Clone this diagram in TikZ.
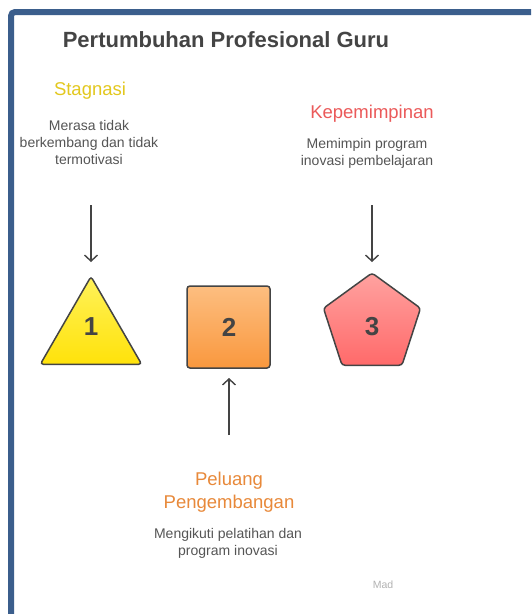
\documentclass[tikz,border=0pt]{standalone}
\usepackage{fontspec}
\setmainfont{Liberation Sans}
\usetikzlibrary{shapes.geometric,arrows.meta}
\definecolor{framec}{HTML}{3B5E8C}
\definecolor{inkc}{HTML}{444444}
\definecolor{textc}{HTML}{555555}
\definecolor{stagc}{HTML}{E3C81E}
\definecolor{peluc}{HTML}{E8893A}
\definecolor{kepec}{HTML}{EB5A5A}
\tikzset{
  heading/.style={font=\fontsize{18.5}{23}\selectfont},
  desc/.style={font=\fontsize{14}{17}\selectfont, text=textc, align=center},
  shapebox/.style={draw=inkc, line width=1.5pt, rounded corners=3pt, inner sep=0pt},
  num/.style={font=\fontsize{26}{30}\selectfont\bfseries, text=inkc},
  arr/.style={draw=inkc, line width=1.4pt, -{Straight Barb[length=6pt,width=13pt]}}
}
\begin{document}
\begin{tikzpicture}[x=1pt, y=-1pt]
    \useasboundingbox (0,0) rectangle (531,614);
    \clip (0,0) rectangle (531,614);
    \fill[white] (0,0) rectangle (531,614);
    \draw[framec, line width=6pt, rounded corners=4pt] (11,630) -- (11,12) -- (545,12);

    \node[font=\fontsize{22}{26}\selectfont\bfseries, text=inkc] (title) at (226,40) {Pertumbuhan Profesional Guru};

    % shapes
    \node[shapebox, regular polygon, regular polygon sides=3, minimum size=117pt,
          top color={rgb,255:red,255;green,242;blue,90}, bottom color={rgb,255:red,255;green,226;blue,10}] (s1) at (91,335) {};
    \node[shapebox, minimum width=83pt, minimum height=82pt,
          top color={rgb,255:red,253;green,190;blue,128}, bottom color={rgb,255:red,249;green,152;blue,62}] (s2) at (228.5,327) {};
    \node[shapebox, regular polygon, regular polygon sides=5, minimum size=102pt,
          top color={rgb,255:red,255;green,162;blue,160}, bottom color={rgb,255:red,255;green,106;blue,106}] (s3) at (372,324) {};
    \node[num] (n1) at (91,327) {1};
    \node[num] (n2) at (229,327) {2};
    \node[num] (n3) at (372,327) {3};

    % labels
    \node[heading, text=stagc] (stag) at (90,91) {Stagnasi};
    \node[desc] (stagd) at (89,142) {Merasa tidak\\berkembang dan tidak\\termotivasi};
    \node[heading, text=kepec] (kepe) at (372,114) {Kepemimpinan};
    \node[desc] (keped) at (367,153) {Memimpin program\\inovasi pembelajaran};
    \node[heading, text=peluc, align=center] (pelu) at (229,492) {Peluang\\Pengembangan};
    \node[desc] (pelud) at (228,543) {Mengikuti pelatihan dan\\program inovasi};
    \node[font=\fontsize{10.5}{12}\selectfont, text=black!30] (made) at (383,585) {Mad};

    % arrows
    \coordinate (a1) at (91,205);
    \coordinate (a3) at (372,205);
    \coordinate (a2) at (229,435);
    \draw[arr] (a1) -- (91,262);
    \draw[arr] (a3) -- (372,262);
    \draw[arr] (a2) -- (229,378);
\end{tikzpicture}
\end{document}
